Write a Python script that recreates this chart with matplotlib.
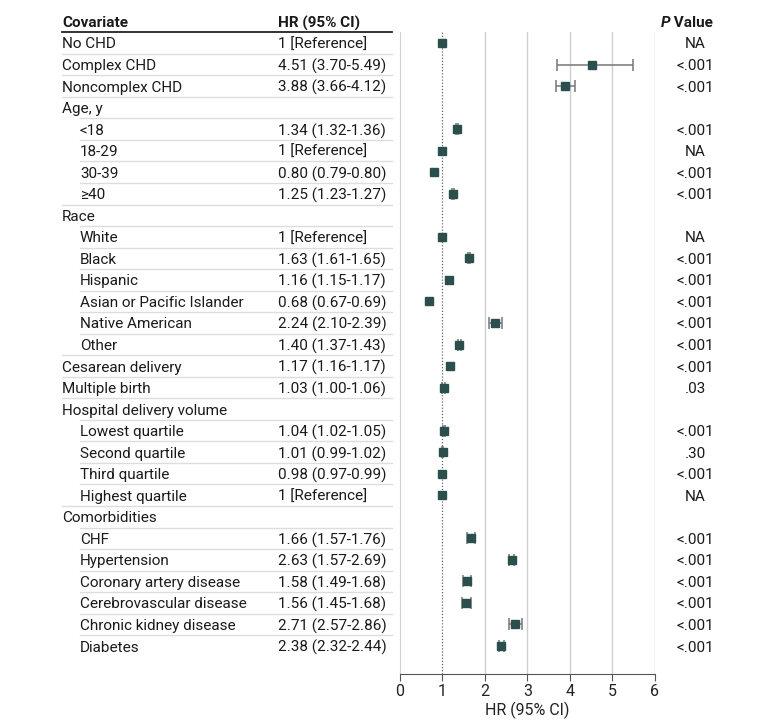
import matplotlib
matplotlib.use("Agg")
import matplotlib.pyplot as plt
from matplotlib import transforms
from matplotlib.lines import Line2D

plt.rcParams['font.family'] = ['Roboto', 'DejaVu Sans']

# rows of the table (top to bottom)
labels = ['No CHD', 'Complex CHD', 'Noncomplex CHD', 'Age, y', '<18', '18-29', '30-39', '\u226540',
          'Race', 'White', 'Black', 'Hispanic', 'Asian or Pacific Islander', 'Native American', 'Other',
          'Cesarean delivery', 'Multiple birth', 'Hospital delivery volume', 'Lowest quartile',
          'Second quartile', 'Third quartile', 'Highest quartile', 'Comorbidities', 'CHF',
          'Hypertension', 'Coronary artery disease', 'Cerebrovascular disease',
          'Chronic kidney disease', 'Diabetes']
indent = [0, 0, 0, 0, 1, 1, 1, 1, 0, 1, 1, 1, 1, 1, 1, 0, 0, 0, 1, 1, 1, 1, 0, 1, 1, 1, 1, 1, 1]
hr_text = ['1 [Reference]', '4.51 (3.70-5.49)', '3.88 (3.66-4.12)', '', '1.34 (1.32-1.36)',
           '1 [Reference]', '0.80 (0.79-0.80)', '1.25 (1.23-1.27)', '', '1 [Reference]',
           '1.63 (1.61-1.65)', '1.16 (1.15-1.17)', '0.68 (0.67-0.69)', '2.24 (2.10-2.39)',
           '1.40 (1.37-1.43)', '1.17 (1.16-1.17)', '1.03 (1.00-1.06)', '', '1.04 (1.02-1.05)',
           '1.01 (0.99-1.02)', '0.98 (0.97-0.99)', '1 [Reference]', '', '1.66 (1.57-1.76)',
           '2.63 (1.57-2.69)', '1.58 (1.49-1.68)', '1.56 (1.45-1.68)', '2.71 (2.57-2.86)',
           '2.38 (2.32-2.44)']
p_text = ['NA', '<.001', '<.001', '', '<.001', 'NA', '<.001', '<.001', '', 'NA', '<.001', '<.001',
          '<.001', '<.001', '<.001', '<.001', '.03', '', '<.001', '.30', '<.001', 'NA', '',
          '<.001', '<.001', '<.001', '<.001', '<.001', '<.001']
hr = [1, 4.51, 3.88, None, 1.34, 1, 0.80, 1.25, None, 1, 1.63, 1.16, 0.68, 2.24, 1.40, 1.17, 1.03,
      None, 1.04, 1.01, 0.98, 1, None, 1.66, 2.63, 1.58, 1.56, 2.71, 2.38]
lo = [1, 3.70, 3.66, None, 1.32, 1, 0.79, 1.23, None, 1, 1.61, 1.15, 0.67, 2.10, 1.37, 1.16, 1.00,
      None, 1.02, 0.99, 0.97, 1, None, 1.57, 2.57, 1.49, 1.45, 2.57, 2.32]
hi = [1, 5.49, 4.12, None, 1.36, 1, 0.80, 1.27, None, 1, 1.65, 1.17, 0.69, 2.39, 1.43, 1.17, 1.06,
      None, 1.05, 1.02, 0.99, 1, None, 1.76, 2.69, 1.68, 1.68, 2.86, 2.44]

W, H = 780, 726
fig = plt.figure(figsize=(W / 100, H / 100), dpi=100)
ax = fig.add_axes([400 / W, 1 - 674 / H, 255 / W, (674 - 32) / H])

n = len(labels)
ax.set_xlim(0, 6)
ax.set_ylim(n - 1 + 28 / 21.54, -11 / 21.54)

for x in range(2, 7):
    ax.axvline(x, color='#d0d0d0', lw=1, zorder=0)
ax.axvline(1, color='#666666', lw=0.9, ls=(0, (1, 1.5)), zorder=1)

marker_c = '#2b4f4c'
for i in range(n):
    if hr[i] is None:
        continue
    if hi[i] - lo[i] > 0.03:
        ax.errorbar(hr[i], i, xerr=[[hr[i] - lo[i]], [hi[i] - hr[i]]], fmt='none',
                    ecolor='#777777', elinewidth=1.1, capsize=4, capthick=1.1, zorder=2)
    ax.plot(hr[i], i, 's', color=marker_c, ms=5.3, zorder=3)

for s in ['top', 'right']:
    ax.spines[s].set_visible(False)
ax.spines['left'].set_color('#d0d0d0')
ax.spines['bottom'].set_color('#555555')
ax.set_yticks([])
ax.set_xticks(range(7))
ax.tick_params(axis='x', direction='out', length=5, color='#555555', labelsize=11.5, pad=2,
               labelcolor='#222222')
ax.set_xlabel('HR (95% CI)', fontsize=11.5, labelpad=2, color='#222222')

# table text
tr = transforms.blended_transform_factory(fig.transFigure, ax.transData)
fs = 11
tc = '#1a1a1a'
for i in range(n):
    x0 = (62 + 18 * indent[i]) / W
    ax.text(x0, i, labels[i], transform=tr, ha='left', va='center_baseline', fontsize=fs,
            color=tc, clip_on=False)
    if hr_text[i]:
        ax.text(278 / W, i, hr_text[i], transform=tr, ha='left', va='center_baseline',
                fontsize=fs, color=tc, clip_on=False)
    if p_text[i]:
        ax.text(695 / W, i, p_text[i], transform=tr, ha='center', va='center_baseline',
                fontsize=fs, color=tc, clip_on=False)
    if i > 0:
        fig.add_artist(Line2D([x0, 392 / W], [i - 0.5, i - 0.5], transform=tr,
                              color='#dddddd', lw=1))

hy = -1
ax.text(62 / W, hy, 'Covariate', transform=tr, ha='left', va='center_baseline', fontsize=fs,
        fontweight='bold', color=tc, clip_on=False)
ax.text(278 / W, hy, 'HR (95% CI)', transform=tr, ha='left', va='center_baseline',
        fontsize=fs, fontweight='bold', color=tc, clip_on=False)
tv = ax.text(713 / W, hy, ' Value', transform=tr, ha='right', va='center_baseline',
             fontsize=fs, fontweight='bold', color=tc, clip_on=False)
fig.canvas.draw()
bb = tv.get_window_extent()
ax.text(bb.x0 / W, hy, 'P', transform=tr, ha='right', va='center_baseline', fontsize=fs,
        fontweight='bold', fontstyle='italic', color=tc, clip_on=False)
fig.add_artist(Line2D([62 / W, 392 / W], [-0.5, -0.5], transform=tr, color='#222222', lw=1.3))

fig.savefig('out.png', dpi=100)
